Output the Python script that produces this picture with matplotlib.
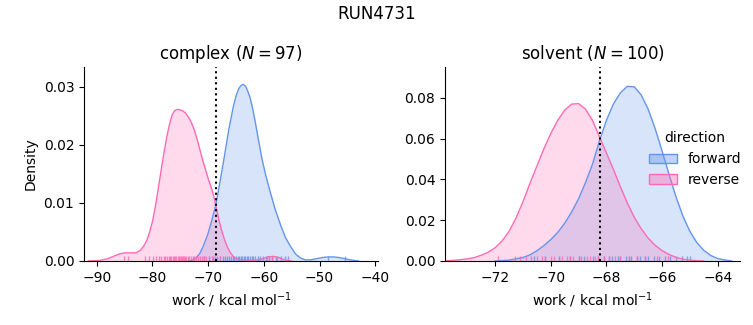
import numpy as np
import matplotlib
matplotlib.use("Agg")
import matplotlib.pyplot as plt
import seaborn as sns
from matplotlib.patches import Patch
from matplotlib.colors import to_rgba

# ---------------- data ----------------
fig_title = "RUN4731"
phases = ["complex", "solvent"]
n_samples = [97, 100]
directions = ["forward", "reverse"]
colors = {"forward": "#6495ED", "reverse": "#FF69B4"}
mean_work = [-68.6, -68.22]

# complex: KDE density curves
cx_rev_x = [-91.5, -89.5, -88.0, -87.0, -86.0, -85.0, -84.0, -83.0, -82.2, -81.5, -81.0, -80.5,
            -80.0, -79.5, -79.0, -78.5, -78.0, -77.5, -77.0, -76.5, -76.0, -75.5, -75.0, -74.5,
            -74.0, -73.5, -73.0, -72.5, -72.0, -71.5, -71.0, -70.5, -70.0, -69.5, -69.0, -68.5,
            -68.0, -67.5, -67.0, -66.5, -66.0, -65.5, -65.0, -64.0, -62.0, -60.5, -59.3, -58.3,
            -57.3, -56.3, -55.0]
cx_rev_y = [0.0, 0.0001, 0.0004, 0.0008, 0.0012, 0.0014, 0.0014, 0.0014, 0.0018, 0.0027, 0.0036, 0.0050,
            0.0068, 0.0093, 0.0122, 0.0153, 0.0183, 0.0210, 0.0233, 0.0251, 0.0259, 0.0261, 0.0260, 0.0258,
            0.0254, 0.0247, 0.0238, 0.0226, 0.0210, 0.0192, 0.0174, 0.0158, 0.0142, 0.0128, 0.0112, 0.0090,
            0.0068, 0.0050, 0.0035, 0.0023, 0.0014, 0.0008, 0.0004, 0.0002, 0.0001, 0.0003, 0.0007, 0.0008,
            0.0006, 0.0002, 0.0]
cx_fwd_x = [-73.5, -73.0, -72.2, -71.5, -70.9, -70.1, -69.4, -68.6, -67.8, -67.0, -66.3, -65.5,
            -65.0, -64.5, -64.0, -63.7, -63.3, -63.0, -62.5, -62.0, -61.5, -60.9, -60.3, -59.6,
            -58.8, -58.0, -57.0, -56.1, -55.2, -54.3, -53.4, -52.5, -51.6, -50.5, -49.5, -48.5,
            -47.5, -46.5, -45.5, -44.5, -43.0]
cx_fwd_y = [0.0, 0.0001, 0.0005, 0.0013, 0.0025, 0.0045, 0.0068, 0.0098, 0.0140, 0.0185, 0.0226, 0.0265,
            0.0284, 0.0297, 0.0303, 0.0304, 0.0301, 0.0295, 0.0282, 0.0262, 0.0237, 0.0205, 0.0174, 0.0145,
            0.0117, 0.0090, 0.0062, 0.0040, 0.0025, 0.0012, 0.0005, 0.0002, 0.0002, 0.0004, 0.0006, 0.0007,
            0.0007, 0.0006, 0.0004, 0.0002, 0.0]

# solvent: KDE density curves
sv_rev_x = [-74.0, -73.5, -73.0, -72.75, -72.5, -72.25, -72.0, -71.75, -71.5, -71.25, -71.0, -70.75,
            -70.5, -70.25, -70.0, -69.75, -69.5, -69.25, -69.0, -68.75, -68.5, -68.25, -68.0, -67.75,
            -67.5, -67.25, -67.0, -66.75, -66.5, -66.25, -66.0, -65.75, -65.5, -65.25, -65.0, -64.5]
sv_rev_y = [0.0, 0.0003, 0.0010, 0.0017, 0.0028, 0.0043, 0.0065, 0.0098, 0.0145, 0.0210, 0.0290, 0.0380,
            0.0465, 0.0550, 0.0625, 0.0690, 0.0740, 0.0770, 0.0772, 0.0745, 0.0690, 0.0610, 0.0530, 0.0450,
            0.0365, 0.0285, 0.0215, 0.0158, 0.0112, 0.0077, 0.0051, 0.0032, 0.0018, 0.0009, 0.0004, 0.0]
sv_fwd_x = [-72.0, -71.5, -71.0, -70.75, -70.5, -70.25, -70.0, -69.75, -69.5, -69.25, -69.0, -68.75,
            -68.5, -68.25, -68.0, -67.75, -67.5, -67.25, -67.0, -66.75, -66.5, -66.25, -66.0, -65.75,
            -65.5, -65.25, -65.0, -64.75, -64.5, -64.25, -64.0, -63.75, -63.5]
sv_fwd_y = [0.0, 0.0004, 0.0017, 0.0030, 0.0050, 0.0075, 0.0105, 0.0140, 0.0185, 0.0240, 0.0305, 0.0385,
            0.0475, 0.0590, 0.0690, 0.0770, 0.0825, 0.0857, 0.0855, 0.0815, 0.0745, 0.0650, 0.0540, 0.0425,
            0.0315, 0.0220, 0.0145, 0.0090, 0.0052, 0.0027, 0.0012, 0.0005, 0.0]

# rug sample positions
cx_rev_rug = [-85.2, -84.4, -81.4, -80.6, -79.9, -79.3, -78.8, -78.4, -78.0, -77.7, -77.4, -77.1,
              -76.8, -76.6, -76.3, -76.1, -75.9, -75.7, -75.5, -75.3, -75.1, -74.9, -74.7, -74.5,
              -74.3, -74.1, -73.9, -73.6, -73.4, -73.1, -72.8, -72.5, -72.2, -71.9, -71.5, -71.1,
              -70.7, -70.3, -69.8, -69.3, -68.7, -67.9, -59.4, -58.5, -57.6]
cx_fwd_rug = [-70.8, -69.9, -69.2, -68.4, -67.9, -67.4, -67.0, -66.6, -66.2, -65.9, -65.6, -65.3,
              -65.0, -64.7, -64.4, -64.1, -63.9, -63.6, -63.4, -63.1, -62.8, -62.5, -62.2, -61.9,
              -61.5, -61.1, -60.7, -60.2, -59.7, -59.1, -58.5, -57.8, -57.0, -56.2, -55.6, -48.5, -45.5]
sv_rev_rug = [-71.9, -71.3, -71.1, -70.9, -70.7, -70.5, -70.3, -70.2, -70.0, -69.9, -69.7, -69.6,
              -69.4, -69.3, -69.2, -69.0, -68.9, -68.7, -68.6, -68.4, -68.3, -68.1, -67.9, -67.7,
              -67.5, -67.2, -66.9, -66.6, -66.2, -65.8]
sv_fwd_rug = [-70.6, -70.2, -69.7, -69.3, -69.0, -68.8, -68.5, -68.3, -68.1, -67.9, -67.8, -67.6,
              -67.5, -67.3, -67.2, -67.1, -66.9, -66.8, -66.6, -66.5, -66.3, -66.1, -65.9, -65.7,
              -65.5, -65.3, -65.1, -65.0]

xlims = [(-92.3, -39.5), (-73.8, -63.2)]
ylims = [(0, 0.0334), (0, 0.0952)]
xticks = [[-90, -80, -70, -60, -50, -40], [-72, -70, -68, -66, -64]]
yticks = [[0.00, 0.01, 0.02, 0.03], [0.00, 0.02, 0.04, 0.06, 0.08]]

curves = [
    {"forward": (cx_fwd_x, cx_fwd_y, cx_fwd_rug), "reverse": (cx_rev_x, cx_rev_y, cx_rev_rug)},
    {"forward": (sv_fwd_x, sv_fwd_y, sv_fwd_rug), "reverse": (sv_rev_x, sv_rev_y, sv_rev_rug)},
]

# ---------------- figure ----------------
fig = plt.figure(figsize=(7.53, 3.25), dpi=100)
axes = [fig.add_axes([84 / 753, 1 - 261 / 325, 294 / 753, 194 / 325]),
        fig.add_axes([445 / 753, 1 - 261 / 325, 295 / 753, 194 / 325])]

for i, ax in enumerate(axes):
    for d in directions:
        x, y, rug = curves[i][d]
        c = colors[d]
        ax.fill_between(x, y, 0, color=c, alpha=0.25, linewidth=0)
        ax.plot(x, y, color=c, linewidth=1)
        sns.rugplot(x=rug, ax=ax, height=0.025, color=c, alpha=0.8, linewidth=1)
    ax.axvline(mean_work[i], color="black", linestyle=":", linewidth=1.5)
    ax.set_xlim(*xlims[i])
    ax.set_ylim(*ylims[i])
    ax.set_xticks(xticks[i])
    ax.set_yticks(yticks[i])
    ax.set_xticklabels([f"\u2212{abs(t)}" for t in xticks[i]])
    ax.set_yticklabels([f"{t:.2f}" for t in yticks[i]])
    ax.spines["top"].set_visible(False)
    ax.spines["right"].set_visible(False)
    ax.set_xlabel(r"work / kcal mol$^{-1}$")
    ax.set_title(f"{phases[i]} ($N = {n_samples[i]}$)", fontsize=12)
    ax.set_ylabel("")

axes[0].set_ylabel("Density")
fig.suptitle(fig_title, fontsize=12, y=0.985)

handles = [Patch(facecolor=to_rgba(colors[d], 0.4), edgecolor=colors[d], linewidth=1) for d in directions]
fig.legend(handles, directions, title="direction", loc="center left",
           bbox_to_anchor=(0.845, 0.51), frameon=False, fontsize=10, title_fontsize=10)

fig.savefig("out.png", dpi=100)
